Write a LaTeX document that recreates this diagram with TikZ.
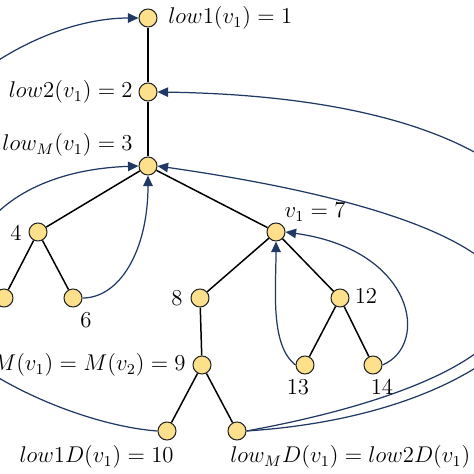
\documentclass[tikz,border=0pt]{standalone}
\usepackage{amsmath}
\usepackage{xcolor}
\usetikzlibrary{arrows.meta}

\definecolor{vtxfill}{RGB}{253,224,140}
\definecolor{backnavy}{RGB}{32,56,100}

\begin{document}
\begin{tikzpicture}[x=0.02cm, y=-0.02cm,
    vtx/.style={circle, draw=black!85, fill=vtxfill, line width=0.6pt, minimum size=0.36cm, inner sep=0pt},
    edge/.style={line width=0.85pt},
    back/.style={draw=backnavy, line width=0.7pt, -{Triangle[length=6pt, width=5.4pt]}},
    lbl/.style={inner sep=0pt, font=\large, scale=1.08}]
    \useasboundingbox (0,0) rectangle (474,474);
    \clip (0,0) rectangle (474,474);

    % Vertices (pixel positions)
    \foreach \n/\x/\y in {1/148/18, 2/148/92, 3/148/166, 4/38/232, 5/4/298, 6/73/298,
                          7/276/232, 8/200/298, 9/202/365, 10/167/431, 11/237/431,
                          12/340/298, 13/305/365, 14/373/365}
        \node[vtx] (n\n) at (\x,\y) {};

    % Tree edges
    \foreach \a/\b in {1/2, 2/3, 3/4, 3/7, 4/5, 4/6, 7/8, 7/12, 8/9, 9/10, 9/11, 12/13, 12/14}
        \draw[edge] (n\a) -- (n\b);

    % Back edges (the outer loops leave the frame)
    \draw[back] (n10.west) .. controls (70,425) and (-110,350) .. (-110,230)
                           .. controls (-110,110) and (30,18) .. (n1.west);
    \draw[back] (n5.west) .. controls (-60,290) and (-30,172) .. (n3.west);
    \draw[back] (n6.east) .. controls (120,298) and (148,250) .. (n3.south);
    \draw[back] (n11.east) .. controls (640,405) and (700,100) .. (n2.east);
    \draw[back] (n11.east) .. controls (580,370) and (640,235) .. (n3.east);
    \draw[back] (n14.east) .. controls (430,345) and (415,250) .. (n7.east);
    \draw[back] (n13.west) .. controls (270,345) and (276,290) .. (n7.south);

    % Labels
    \node[lbl, anchor=west] (l1) at (168,18) {$low1(v_1) = 1$};
    \node[lbl, anchor=east] (l2) at (133,92) {$low2(v_1) = 2$};
    \node[lbl, anchor=east] (l3) at (133,145) {$low_M(v_1) = 3$};
    \node[lbl] (l4) at (16,233) {$4$};
    \node[lbl] (l6) at (86,320) {$6$};
    \node[lbl] (l7) at (315,212) {$v_1 = 7$};
    \node[lbl] (l8) at (177,298) {$8$};
    \node[lbl, anchor=east] (l9) at (186,365) {$M(v_1) = M(v_2) = 9$};
    \node[lbl, anchor=east] (l10) at (174,457) {$low1D(v_1) = 10$};
    \node[lbl, anchor=west] (l11) at (230,457) {$low_M D(v_1) = low2D(v_1)$};
    \node[lbl] (l12) at (366,296) {$12$};
    \node[lbl] (l13) at (298,387) {$13$};
    \node[lbl] (l14) at (382,387) {$14$};
\end{tikzpicture}
\end{document}
